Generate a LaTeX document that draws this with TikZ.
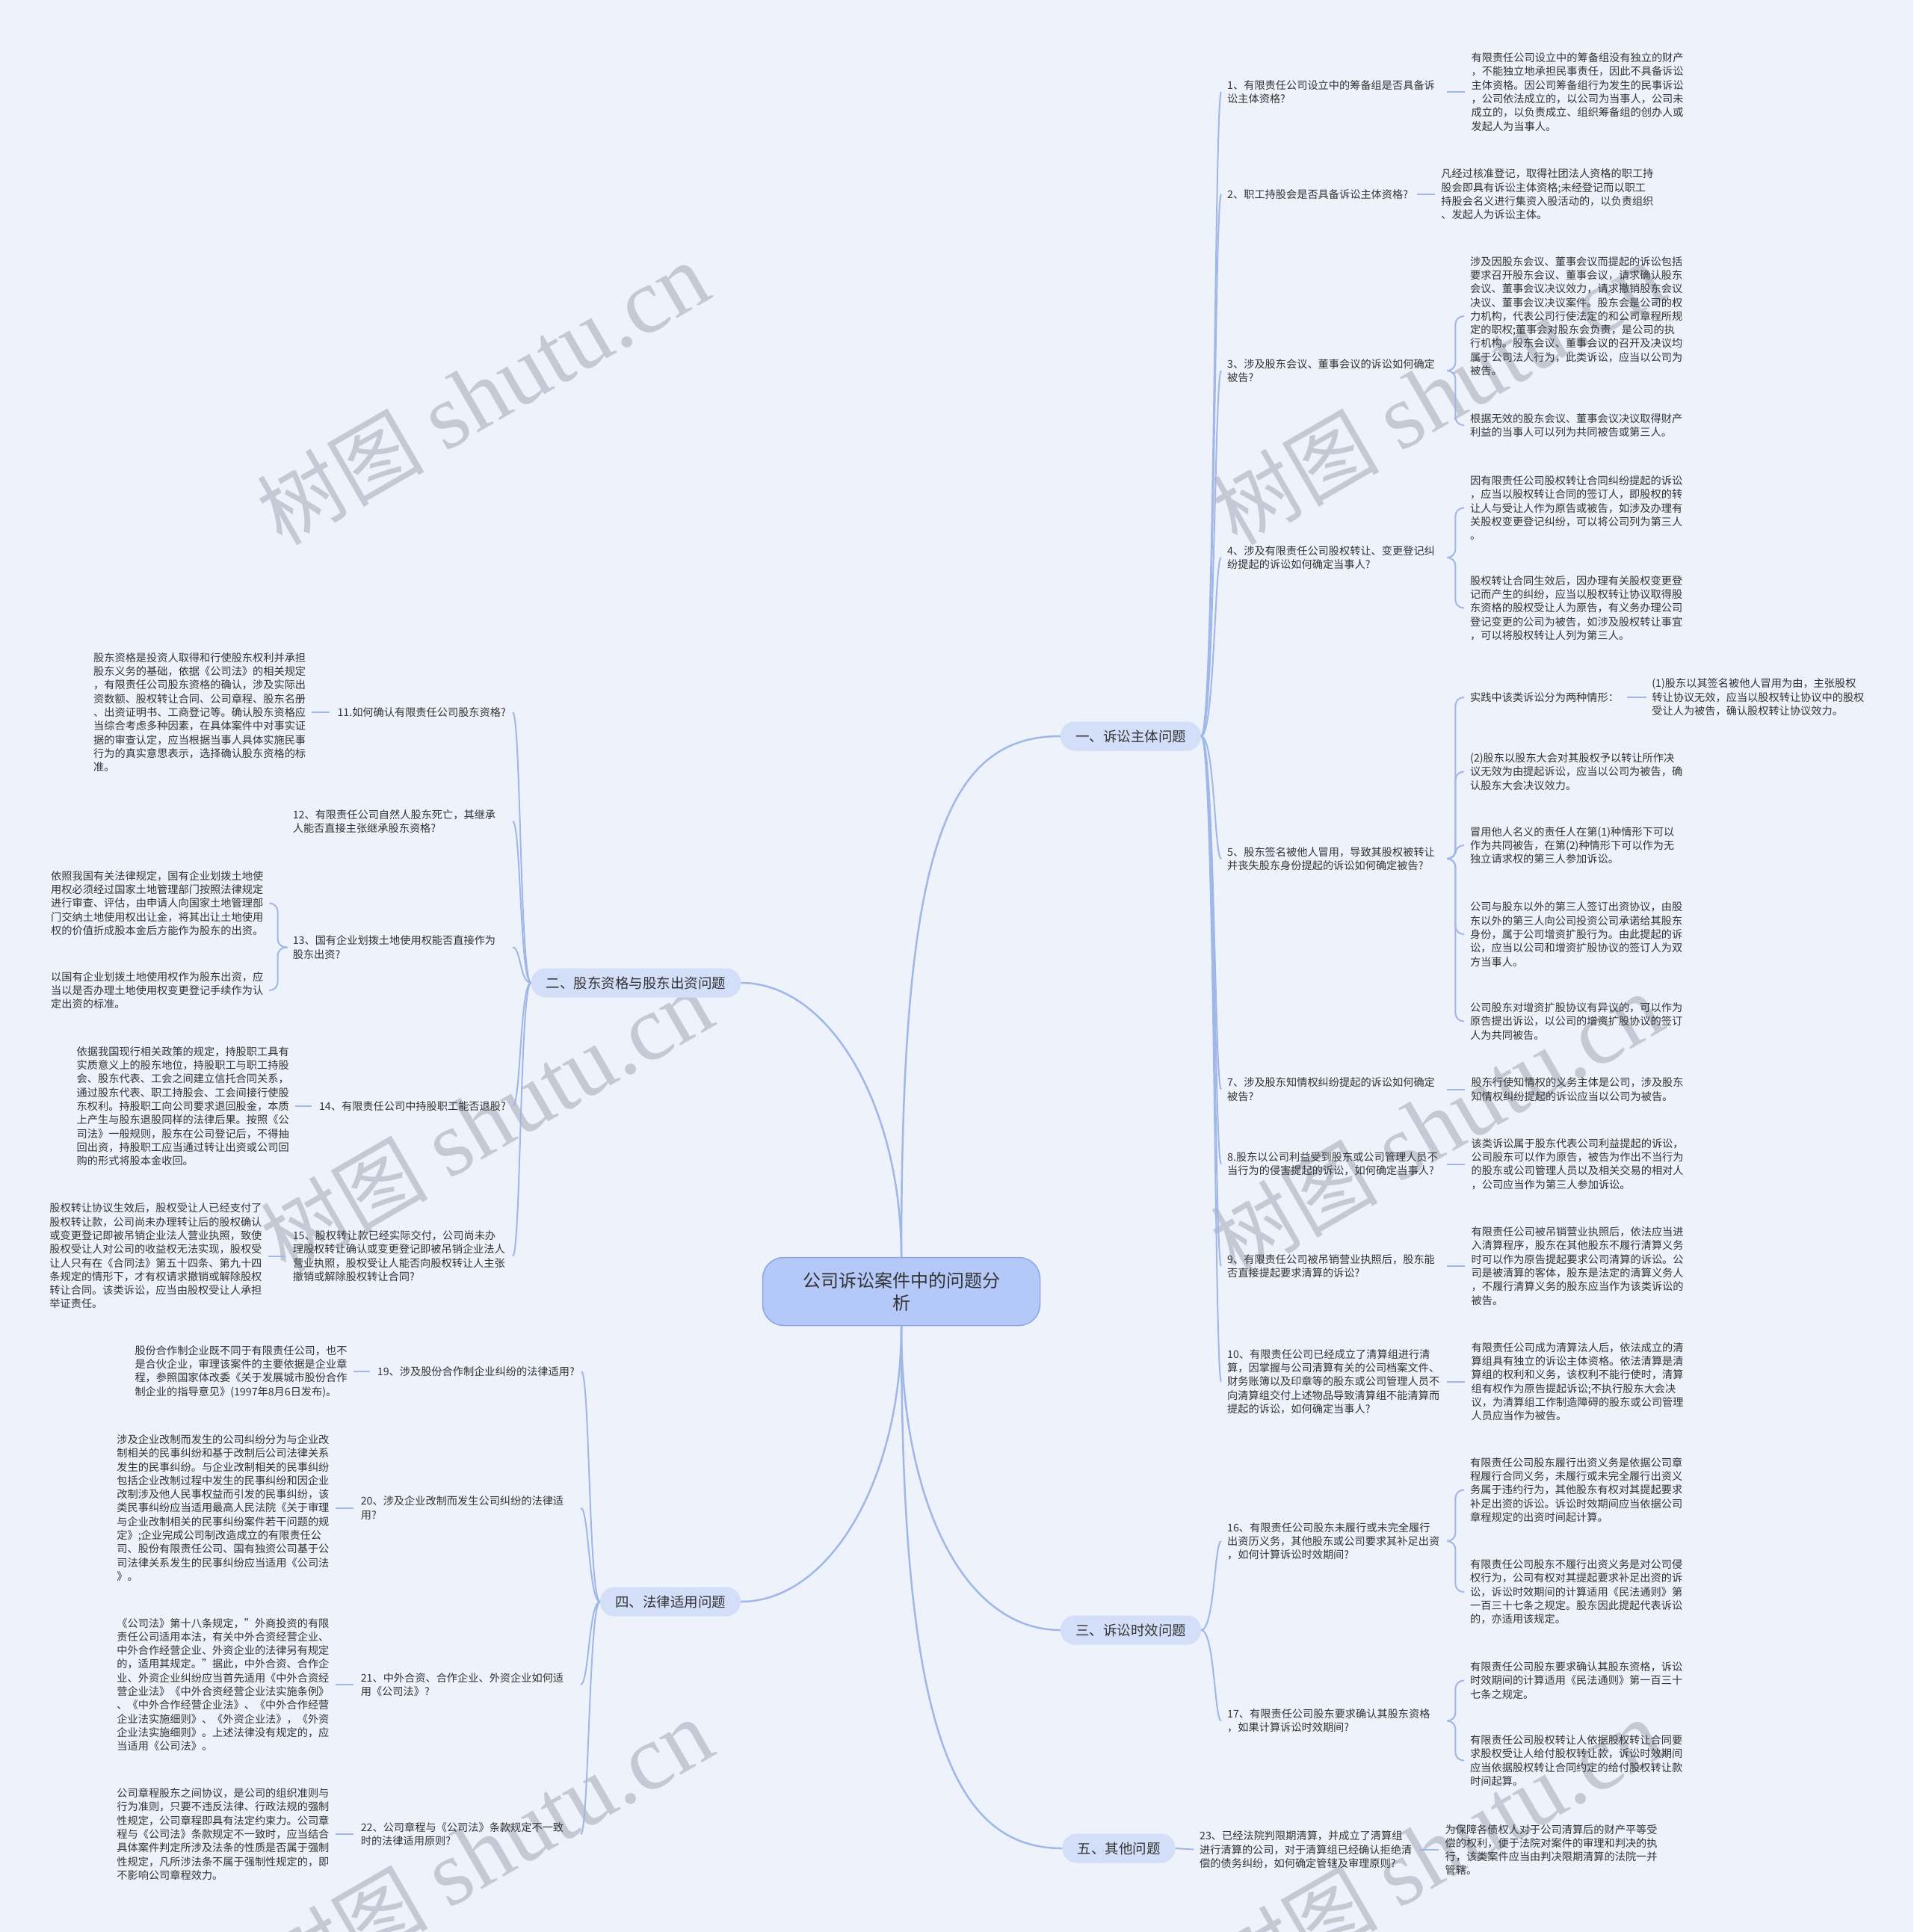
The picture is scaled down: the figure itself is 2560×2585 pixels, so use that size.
\documentclass[tikz,border=0pt]{standalone}
\usepackage{fontspec}
\setmainfont{Noto Sans CJK SC}
\newfontfamily\wmlatin{Liberation Serif}
\usepackage{xcolor}
\usetikzlibrary{positioning}
\definecolor{pageBg}{RGB}{238,242,251}
\definecolor{lineBlue}{RGB}{160,184,232}
\definecolor{rootFill}{RGB}{181,201,248}
\definecolor{rootEdge}{RGB}{140,168,232}
\definecolor{topicFill}{RGB}{211,223,249}
\definecolor{inkGray}{RGB}{51,51,51}
\definecolor{markGray}{RGB}{196,201,211}
\newcommand{\shutumark}{{\fontsize{112}{112}\selectfont 树图}\hspace{28pt}{\wmlatin\fontsize{124}{124}\selectfont shutu.cn}}

\begin{document}
\begin{tikzpicture}[
  x=1pt, y=-1pt,
  node distance=44pt,
  rootnode/.style={draw=rootEdge, line width=1.5pt, fill=rootFill, rounded corners=28pt, minimum width=371pt, minimum height=91pt, align=center, text=inkGray, font=\fontsize{24}{30}\selectfont},
  topicnode/.style={fill=topicFill, rounded corners=19pt, minimum height=39pt, inner xsep=20pt, inner ysep=0pt, text=inkGray, font=\fontsize{18.5}{22}\selectfont},
  qtext/.style={inner sep=0pt, align=left, text=inkGray, font=\fontsize{14.2}{18.3}\selectfont},
  qwide/.style={qtext, text width=282pt},
  qwideleft/.style={qtext, text width=285pt},
  atext/.style={qtext},
  mainlink/.style={draw=lineBlue, line width=2.5pt},
  sublink/.style={draw=lineBlue, line width=2pt, rounded corners=11pt},
  wmtext/.style={text=markGray, inner sep=0pt, rotate=30}
]
  \useasboundingbox (0,0) rectangle (2560,2585);
  \fill[pageBg] (0,0) rectangle (2560,2585);

  % watermarks
  \node[wmtext] (wm1) at (646,527) {\shutumark};
  \node[wmtext] (wm2) at (1924,527) {\shutumark};
  \node[wmtext] (wm3) at (651,1500) {\shutumark};
  \node[wmtext] (wm4) at (1922,1505) {\shutumark};
  \node[wmtext] (wm5) at (651,2476) {\shutumark};
  \node[wmtext] (wm6) at (1922,2476) {\shutumark};

  % centre and topics
  \node[rootnode] (root) at (1206,1728) {公司诉讼案件中的问题分\\析};
  \node[topicnode] (t1) at (1513,985) {一、诉讼主体问题};
  \node[topicnode] (t2) at (851,1315) {二、股东资格与股东出资问题};
  \node[topicnode] (t4) at (897,2143) {四、法律适用问题};
  \node[topicnode] (t3) at (1513,2181) {三、诉讼时效问题};
  \node[topicnode] (t5) at (1497,2473) {五、其他问题};

  % 一、诉讼主体问题
  \node[qwide, anchor=west] (q1) at (1642,123) {1、有限责任公司设立中的筹备组是否具备诉\\讼主体资格?};
  \node[atext, right=of q1] (a1) {有限责任公司设立中的筹备组没有独立的财产\\，不能独立地承担民事责任，因此不具备诉讼\\主体资格。因公司筹备组行为发生的民事诉讼\\，公司依法成立的，以公司为当事人，公司未\\成立的，以负责成立、组织筹备组的创办人或\\发起人为当事人。};
  \node[qtext, anchor=west] (q2) at (1642,260) {2、职工持股会是否具备诉讼主体资格?};
  \node[atext, right=of q2] (a2) {凡经过核准登记，取得社团法人资格的职工持\\股会即具有诉讼主体资格;未经登记而以职工\\持股会名义进行集资入股活动的，以负责组织\\、发起人为诉讼主体。};
  \node[qwide, anchor=west] (q3) at (1642,496) {3、涉及股东会议、董事会议的诉讼如何确定\\被告?};
  \node[atext, anchor=west] (a3a) at (1967,423) {涉及因股东会议、董事会议而提起的诉讼包括\\要求召开股东会议、董事会议，请求确认股东\\会议、董事会议决议效力，请求撤销股东会议\\决议、董事会议决议案件。股东会是公司的权\\力机构，代表公司行使法定的和公司章程所规\\定的职权;董事会对股东会负责，是公司的执\\行机构。股东会议、董事会议的召开及决议均\\属于公司法人行为，此类诉讼，应当以公司为\\被告。};
  \node[atext, anchor=west] (a3b) at (1967,569) {根据无效的股东会议、董事会议决议取得财产\\利益的当事人可以列为共同被告或第三人。};
  \node[qwide, anchor=west] (q4) at (1642,746) {4、涉及有限责任公司股权转让、变更登记纠\\纷提起的诉讼如何确定当事人?};
  \node[atext, anchor=west] (a4a) at (1967,679.5) {因有限责任公司股权转让合同纠纷提起的诉讼\\，应当以股权转让合同的签订人，即股权的转\\让人与受让人作为原告或被告，如涉及办理有\\关股权变更登记纠纷，可以将公司列为第三人\\。};
  \node[atext, anchor=west] (a4b) at (1967,813.5) {股权转让合同生效后，因办理有关股权变更登\\记而产生的纠纷，应当以股权转让协议取得股\\东资格的股权受让人为原告，有义务办理公司\\登记变更的公司为被告，如涉及股权转让事宜\\，可以将股权转让人列为第三人。};
  \node[qwide, anchor=west] (q5) at (1642,1149) {5、股东签名被他人冒用，导致其股权被转让\\并丧失股东身份提起的诉讼如何确定被告?};
  \node[atext, anchor=west] (c5a) at (1967,933) {实践中该类诉讼分为两种情形：};
  \node[atext, right=of c5a] (c5a1) {(1)股东以其签名被他人冒用为由，主张股权\\转让协议无效，应当以股权转让协议中的股权\\受让人为被告，确认股权转让协议效力。};
  \node[atext, anchor=west] (c5b) at (1967,1032.5) {(2)股东以股东大会对其股权予以转让所作决\\议无效为由提起诉讼，应当以公司为被告，确\\认股东大会决议效力。};
  \node[atext, anchor=west] (c5c) at (1967,1131) {冒用他人名义的责任人在第(1)种情形下可以\\作为共同被告，在第(2)种情形下可以作为无\\独立请求权的第三人参加诉讼。};
  \node[atext, anchor=west] (c5d) at (1967,1250) {公司与股东以外的第三人签订出资协议，由股\\东以外的第三人向公司投资公司承诺给其股东\\身份，属于公司增资扩股行为。由此提起的诉\\讼，应当以公司和增资扩股协议的签订人为双\\方当事人。};
  \node[atext, anchor=west] (c5e) at (1967,1366.5) {公司股东对增资扩股协议有异议的，可以作为\\原告提出诉讼，以公司的增资扩股协议的签订\\人为共同被告。};
  \node[qwide, anchor=west] (q7) at (1642,1457.5) {7、涉及股东知情权纠纷提起的诉讼如何确定\\被告?};
  \node[atext, right=of q7] (a7) {股东行使知情权的义务主体是公司，涉及股东\\知情权纠纷提起的诉讼应当以公司为被告。};
  \node[qwide, anchor=west] (q8) at (1642,1557.5) {8.股东以公司利益受到股东或公司管理人员不\\当行为的侵害提起的诉讼，如何确定当事人?};
  \node[atext, right=of q8] (a8) {该类诉讼属于股东代表公司利益提起的诉讼，\\公司股东可以作为原告，被告为作出不当行为\\的股东或公司管理人员以及相关交易的相对人\\，公司应当作为第三人参加诉讼。};
  \node[qwide, anchor=west] (q9) at (1642,1694) {9、有限责任公司被吊销营业执照后，股东能\\否直接提起要求清算的诉讼?};
  \node[atext, right=of q9] (a9) {有限责任公司被吊销营业执照后，依法应当进\\入清算程序，股东在其他股东不履行清算义务\\时可以作为原告提起要求公司清算的诉讼。公\\司是被清算的客体，股东是法定的清算义务人\\，不履行清算义务的股东应当作为该类诉讼的\\被告。};
  \node[qwide, anchor=west] (q10) at (1642,1848.5) {10、有限责任公司已经成立了清算组进行清\\算，因掌握与公司清算有关的公司档案文件、\\财务账簿以及印章等的股东或公司管理人员不\\向清算组交付上述物品导致清算组不能清算而\\提起的诉讼，如何确定当事人?};
  \node[atext, right=of q10] (a10) {有限责任公司成为清算法人后，依法成立的清\\算组具有独立的诉讼主体资格。依法清算是清\\算组的权利和义务，该权利不能行使时，清算\\组有权作为原告提起诉讼;不执行股东大会决\\议，为清算组工作制造障碍的股东或公司管理\\人员应当作为被告。};

  % 三、诉讼时效问题
  \node[qwide, anchor=west] (q16) at (1642,2062) {16、有限责任公司股东未履行或未完全履行\\出资历义务，其他股东或公司要求其补足出资\\，如何计算诉讼时效期间?};
  \node[atext, anchor=west] (a16a) at (1967,1993.5) {有限责任公司股东履行出资义务是依据公司章\\程履行合同义务，未履行或未完全履行出资义\\务属于违约行为，其他股东有权对其提起要求\\补足出资的诉讼。诉讼时效期间应当依据公司\\章程规定的出资时间起计算。};
  \node[atext, anchor=west] (a16b) at (1967,2130) {有限责任公司股东不履行出资义务是对公司侵\\权行为，公司有权对其提起要求补足出资的诉\\讼，诉讼时效期间的计算适用《民法通则》第\\一百三十七条之规定。股东因此提起代表诉讼\\的，亦适用该规定。};
  \node[qwide, anchor=west] (q17) at (1642,2302.5) {17、有限责任公司股东要求确认其股东资格\\，如果计算诉讼时效期间?};
  \node[atext, anchor=west] (a17a) at (1967,2248.5) {有限责任公司股东要求确认其股东资格，诉讼\\时效期间的计算适用《民法通则》第一百三十\\七条之规定。};
  \node[atext, anchor=west] (a17b) at (1967,2355.5) {有限责任公司股权转让人依据股权转让合同要\\求股权受让人给付股权转让款，诉讼时效期间\\应当依据股权转让合同约定的给付股权转让款\\时间起算。};

  % 五、其他问题
  \node[qwide, anchor=west] (q23) at (1605,2475) {23、已经法院判限期清算，并成立了清算组\\进行清算的公司，对于清算组已经确认拒绝清\\偿的债务纠纷，如何确定管辖及审理原则?};
  \node[atext, right=46pt of q23] (a23) {为保障各债权人对于公司清算后的财产平等受\\偿的权利，便于法院对案件的审理和判决的执\\行，该类案件应当由判决限期清算的法院一并\\管辖。};

  % 二、股东资格与股东出资问题
  \node[qtext, anchor=east] (q11) at (677,953) {11.如何确认有限责任公司股东资格?};
  \node[atext, left=42pt of q11] (a11) {股东资格是投资人取得和行使股东权利并承担\\股东义务的基础，依据《公司法》的相关规定\\，有限责任公司股东资格的确认，涉及实际出\\资数额、股权转让合同、公司章程、股东名册\\、出资证明书、工商登记等。确认股东资格应\\当综合考虑多种因素，在具体案件中对事实证\\据的审查认定，应当根据当事人具体实施民事\\行为的真实意思表示，选择确认股东资格的标\\准。};
  \node[qwideleft, anchor=east] (q12) at (677,1099) {12、有限责任公司自然人股东死亡，其继承\\人能否直接主张继承股东资格?};
  \node[qwideleft, anchor=east] (q13) at (677,1267.5) {13、国有企业划拨土地使用权能否直接作为\\股东出资?};
  \node[atext, anchor=west] (a13a) at (68,1208.5) {依照我国有关法律规定，国有企业划拨土地使\\用权必须经过国家土地管理部门按照法律规定\\进行审查、评估，由申请人向国家土地管理部\\门交纳土地使用权出让金，将其出让土地使用\\权的价值折成股本金后方能作为股东的出资。};
  \node[atext, anchor=west] (a13b) at (68,1325) {以国有企业划拨土地使用权作为股东出资，应\\当以是否办理土地使用权变更登记手续作为认\\定出资的标准。};
  \node[qtext, anchor=east] (q14) at (677,1480) {14、有限责任公司中持股职工能否退股?};
  \node[atext, left=40pt of q14] (a14) {依据我国现行相关政策的规定，持股职工具有\\实质意义上的股东地位，持股职工与职工持股\\会、股东代表、工会之间建立信托合同关系，\\通过股东代表、职工持股会、工会间接行使股\\东权利。持股职工向公司要求退回股金，本质\\上产生与股东退股同样的法律后果。按照《公\\司法》一般规则，股东在公司登记后，不得抽\\回出资，持股职工应当通过转让出资或公司回\\购的形式将股本金收回。};
  \node[qwideleft, anchor=east] (q15) at (677,1680.5) {15、股权转让款已经实际交付，公司尚未办\\理股权转让确认或变更登记即被吊销企业法人\\营业执照，股权受让人能否向股权转让人主张\\撤销或解除股权转让合同?};
  \node[atext, left=41pt of q15] (a15) {股权转让协议生效后，股权受让人已经支付了\\股权转让款，公司尚未办理转让后的股权确认\\或变更登记即被吊销企业法人营业执照，致使\\股权受让人对公司的收益权无法实现，股权受\\让人只有在《合同法》第五十四条、第九十四\\条规定的情形下，才有权请求撤销或解除股权\\转让合同。该类诉讼，应当由股权受让人承担\\举证责任。};

  % 四、法律适用问题
  \node[qtext, anchor=east] (q19) at (769,1835) {19、涉及股份合作制企业纠纷的法律适用?};
  \node[atext, left=40pt of q19] (a19) {股份合作制企业既不同于有限责任公司，也不\\是合伙企业，审理该案件的主要依据是企业章\\程，参照国家体改委《关于发展城市股份合作\\制企业的指导意见》(1997年8月6日发布)。};
  \node[qwideleft, anchor=east] (q20) at (768,2017.5) {20、涉及企业改制而发生公司纠纷的法律适\\用?};
  \node[atext, left=42pt of q20] (a20) {涉及企业改制而发生的公司纠纷分为与企业改\\制相关的民事纠纷和基于改制后公司法律关系\\发生的民事纠纷。与企业改制相关的民事纠纷\\包括企业改制过程中发生的民事纠纷和因企业\\改制涉及他人民事权益而引发的民事纠纷，该\\类民事纠纷应当适用最高人民法院《关于审理\\与企业改制相关的民事纠纷案件若干问题的规\\定》;企业完成公司制改造成立的有限责任公\\司、股份有限责任公司、国有独资公司基于公\\司法律关系发生的民事纠纷应当适用《公司法\\》。};
  \node[qwideleft, anchor=east] (q21) at (768,2254) {21、中外合资、合作企业、外资企业如何适\\用《公司法》?};
  \node[atext, left=42pt of q21] (a21) {《公司法》第十八条规定，"外商投资的有限\\责任公司适用本法，有关中外合资经营企业、\\中外合作经营企业、外资企业的法律另有规定\\的，适用其规定。"据此，中外合资、合作企\\业、外资企业纠纷应当首先适用《中外合资经\\营企业法》《中外合资经营企业法实施条例》\\、《中外合作经营企业法》、《中外合作经营\\企业法实施细则》、《外资企业法》，《外资\\企业法实施细则》。上述法律没有规定的，应\\当适用《公司法》。};
  \node[qwideleft, anchor=east] (q22) at (768,2454) {22、公司章程与《公司法》条款规定不一致\\时的法律适用原则?};
  \node[atext, left=42pt of q22] (a22) {公司章程股东之间协议，是公司的组织准则与\\行为准则，只要不违反法律、行政法规的强制\\性规定，公司章程即具有法定约束力。公司章\\程与《公司法》条款规定不一致时，应当结合\\具体案件判定所涉及法条的性质是否属于强制\\性规定，凡所涉法条不属于强制性规定的，即\\不影响公司章程效力。};

  % centre to topics
  \draw[mainlink] (root.north) .. controls (1206,1150) and (1260,985) .. (t1.west);
  \draw[mainlink] (root.north) .. controls (1206,1480) and (1110,1315) .. (t2.east);
  \draw[mainlink] (root.south) .. controls (1206,1980) and (1110,2143) .. (t4.east);
  \draw[mainlink] (root.south) .. controls (1206,2010) and (1290,2181) .. (t3.west);
  \draw[mainlink] (root.south) .. controls (1206,2300) and (1270,2473) .. (t5.west);

  % topic 一 to questions
  \draw[sublink, shorten >=8pt] (t1.east) .. controls +(18,0) and +(-17,0) .. (q1.west);
  \draw[sublink, shorten >=8pt] (t1.east) .. controls +(18,0) and +(-17,0) .. (q2.west);
  \draw[sublink, shorten >=8pt] (t1.east) .. controls +(18,0) and +(-17,0) .. (q3.west);
  \draw[sublink, shorten >=8pt] (t1.east) .. controls +(18,0) and +(-17,0) .. (q4.west);
  \draw[sublink, shorten >=8pt] (t1.east) .. controls +(18,0) and +(-17,0) .. (q5.west);
  \draw[sublink, shorten >=8pt] (t1.east) .. controls +(18,0) and +(-17,0) .. (q7.west);
  \draw[sublink, shorten >=8pt] (t1.east) .. controls +(18,0) and +(-17,0) .. (q8.west);
  \draw[sublink, shorten >=8pt] (t1.east) .. controls +(18,0) and +(-17,0) .. (q9.west);
  \draw[sublink, shorten >=8pt] (t1.east) .. controls +(18,0) and +(-17,0) .. (q10.west);

  % questions to answers
  \draw[sublink, shorten <=12pt, shorten >=8pt] (q1.east) -- (a1.west);
  \draw[sublink, shorten <=12pt, shorten >=8pt] (q2.east) -- (a2.west);
  \draw[sublink] (q3.east) ++(12,0) -- ++(11,0) |- ([xshift=-8pt]a3a.west);
  \draw[sublink] (q3.east) ++(12,0) -- ++(11,0) |- ([xshift=-8pt]a3b.west);
  \draw[sublink] (q4.east) ++(12,0) -- ++(11,0) |- ([xshift=-8pt]a4a.west);
  \draw[sublink] (q4.east) ++(12,0) -- ++(11,0) |- ([xshift=-8pt]a4b.west);
  \draw[sublink] (q5.east) ++(12,0) -- ++(11,0) |- ([xshift=-8pt]c5a.west);
  \draw[sublink] (q5.east) ++(12,0) -- ++(11,0) |- ([xshift=-8pt]c5b.west);
  \draw[sublink] (q5.east) ++(12,0) -- ++(11,0) |- ([xshift=-8pt]c5c.west);
  \draw[sublink] (q5.east) ++(12,0) -- ++(11,0) |- ([xshift=-8pt]c5d.west);
  \draw[sublink] (q5.east) ++(12,0) -- ++(11,0) |- ([xshift=-8pt]c5e.west);
  \draw[sublink, shorten <=11pt, shorten >=7pt] (c5a.east) -- (c5a1.west);
  \draw[sublink, shorten <=12pt, shorten >=8pt] (q7.east) -- (a7.west);
  \draw[sublink, shorten <=12pt, shorten >=8pt] (q8.east) -- (a8.west);
  \draw[sublink, shorten <=12pt, shorten >=8pt] (q9.east) -- (a9.west);
  \draw[sublink, shorten <=12pt, shorten >=8pt] (q10.east) -- (a10.west);

  % topic 三
  \draw[sublink, shorten >=8pt] (t3.east) .. controls +(18,0) and +(-17,0) .. (q16.west);
  \draw[sublink, shorten >=8pt] (t3.east) .. controls +(18,0) and +(-17,0) .. (q17.west);
  \draw[sublink] (q16.east) ++(12,0) -- ++(11,0) |- ([xshift=-8pt]a16a.west);
  \draw[sublink] (q16.east) ++(12,0) -- ++(11,0) |- ([xshift=-8pt]a16b.west);
  \draw[sublink] (q17.east) ++(12,0) -- ++(11,0) |- ([xshift=-8pt]a17a.west);
  \draw[sublink] (q17.east) ++(12,0) -- ++(11,0) |- ([xshift=-8pt]a17b.west);

  % topic 五
  \draw[sublink, shorten >=8pt] (t5.east) -- (q23.west);
  \draw[sublink, shorten <=12pt, shorten >=8pt] (q23.east) -- (a23.west);

  % topic 二
  \draw[sublink, shorten >=9pt] (t2.west) .. controls +(-15,0) and +(20,0) .. (q11.east);
  \draw[sublink, shorten >=9pt] (t2.west) .. controls +(-15,0) and +(20,0) .. (q12.east);
  \draw[sublink, shorten >=9pt] (t2.west) .. controls +(-15,0) and +(20,0) .. (q13.east);
  \draw[sublink, shorten >=9pt] (t2.west) .. controls +(-15,0) and +(20,0) .. (q14.east);
  \draw[sublink, shorten >=9pt] (t2.west) .. controls +(-15,0) and +(20,0) .. (q15.east);
  \draw[sublink, shorten <=10pt, shorten >=8pt] (q11.west) -- (a11.east);
  \draw[sublink] (q13.west) ++(-7,0) -- ++(-13,0) |- ([xshift=8pt]a13a.east);
  \draw[sublink] (q13.west) ++(-7,0) -- ++(-13,0) |- ([xshift=8pt]a13b.east);
  \draw[sublink, shorten <=10pt, shorten >=8pt] (q14.west) -- (a14.east);
  \draw[sublink, shorten <=10pt, shorten >=8pt] (q15.west) -- (a15.east);

  % topic 四
  \draw[sublink, shorten >=9pt] (t4.west) .. controls +(-15,0) and +(20,0) .. (q19.east);
  \draw[sublink, shorten >=9pt] (t4.west) .. controls +(-15,0) and +(20,0) .. (q20.east);
  \draw[sublink, shorten >=9pt] (t4.west) .. controls +(-15,0) and +(20,0) .. (q21.east);
  \draw[sublink, shorten >=9pt] (t4.west) .. controls +(-15,0) and +(20,0) .. (q22.east);
  \draw[sublink, shorten <=10pt, shorten >=8pt] (q19.west) -- (a19.east);
  \draw[sublink, shorten <=10pt, shorten >=8pt] (q20.west) -- (a20.east);
  \draw[sublink, shorten <=10pt, shorten >=8pt] (q21.west) -- (a21.east);
  \draw[sublink, shorten <=10pt, shorten >=8pt] (q22.west) -- (a22.east);
\end{tikzpicture}
\end{document}
